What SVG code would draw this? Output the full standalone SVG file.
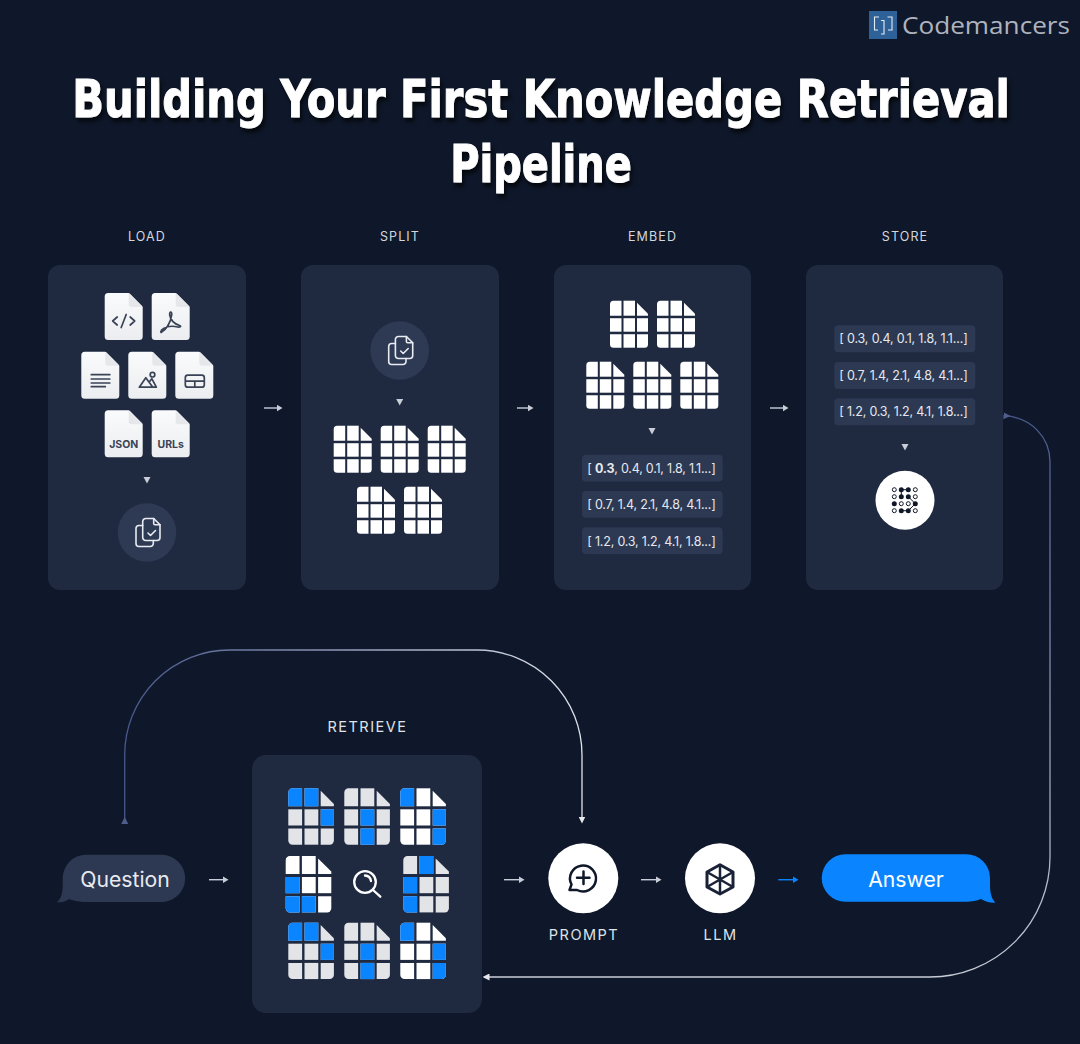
<svg xmlns="http://www.w3.org/2000/svg" width="1080" height="1044" viewBox="0 0 1080 1044">
<style>
text{font-family:"Inter","Liberation Sans",sans-serif}
.card{fill:#1f2a40}
.label{font-size:12.500px;letter-spacing:1.100px;fill:#d3d6de;text-anchor:middle}
.label2{font-size:14.500px;letter-spacing:1.500px;fill:#dfe2e8;text-anchor:middle}
.title{font-family:"DejaVu Sans","Liberation Sans",sans-serif;font-weight:700;font-size:51px;fill:#fff;stroke:#fff;stroke-width:1;text-anchor:middle}
.pill{fill:#2d3952}
.pt{font-size:12.500px;fill:#e6e8ee}
.tri{fill:#c9cdd8}
.white{fill:#fff}
.grey{fill:#e3e4e8}
.blue{fill:#0a84ff}
.doc{fill:url(#dg)}
.fold{fill:#e6e7ea}
.ic{fill:none;stroke:#3a4356;stroke-width:1.700;stroke-linecap:round;stroke-linejoin:round}
.ict{font-size:10.500px;font-weight:700;fill:#3a4356;text-anchor:middle}
.cc{fill:#2e3a54}
.ck{fill:none;stroke:#e8ebf2;stroke-width:1.600;stroke-linecap:round;stroke-linejoin:round}
.arr{fill:none;stroke:#c9cdd8;stroke-width:1.400}
.arrb{fill:none;stroke:#0a84ff;stroke-width:1.400}
.curve{fill:none;stroke-width:1.300}
.dk{fill:none;stroke:#0f1729;stroke-width:2.500;stroke-linecap:round;stroke-linejoin:round}
.dot{fill:#fff;stroke:#0f1729;stroke-width:1}
.dotf{fill:#0f1729}
</style>
<defs>
<filter id="ts" filterUnits="userSpaceOnUse" x="0" y="50" width="1080" height="170"><feDropShadow dx="2" dy="4" stdDeviation="2" flood-color="#000" flood-opacity=".7"/></filter>
<linearGradient id="dg" x1="0" y1="0" x2="0" y2="1"><stop offset="0" stop-color="#fafbfc"/><stop offset="1" stop-color="#ebedf0"/></linearGradient>
<linearGradient id="g1" gradientUnits="userSpaceOnUse" x1="125" y1="0" x2="582" y2="0"><stop offset="0" stop-color="#47578a"/><stop offset="1" stop-color="#e0e3ea"/></linearGradient>
<linearGradient id="g2" gradientUnits="userSpaceOnUse" x1="0" y1="415" x2="0" y2="977"><stop offset="0" stop-color="#47578a"/><stop offset="1" stop-color="#c8ccd6"/></linearGradient>
<marker id="mg" viewBox="0 0 6 7" refX="0.5" refY="3.5" markerWidth="6" markerHeight="7" markerUnits="userSpaceOnUse" orient="auto"><path d="M0 0L6 3.5L0 7Z" fill="#c9cdd8"/></marker>
<marker id="mb" viewBox="0 0 6 7" refX="0.5" refY="3.5" markerWidth="6" markerHeight="7" markerUnits="userSpaceOnUse" orient="auto"><path d="M0 0L6 3.5L0 7Z" fill="#0a84ff"/></marker>
<marker id="mw" viewBox="0 0 7 7" refX="0.5" refY="3.5" markerWidth="7" markerHeight="7" markerUnits="userSpaceOnUse" orient="auto"><path d="M0 0L7 3.5L0 7Z" fill="#e6e8ee"/></marker>
<marker id="ms" viewBox="0 0 7 7" refX="0" refY="3.5" markerWidth="7" markerHeight="7" markerUnits="userSpaceOnUse" orient="auto"><path d="M0 0L7 3.5L0 7Z" fill="#4e5d8c"/></marker>
<path id="c1" d="M0 3.500A3.500 3.500 0 0 1 3.500 0H11.500V15H0Z"/>
<path id="c2" d="M13.500 0H25V15H13.500Z"/>
<path id="c3" d="M27 2L38 13V15H27Z"/>
<path id="c4" d="M0 17.500H11.500V31H0Z"/>
<path id="c5" d="M13.500 17.500H25V31H13.500Z"/>
<path id="c6" d="M27 17.500H38V31H27Z"/>
<path id="c7" d="M0 33.500H11.500V47H3.500A3.500 3.500 0 0 1 0 43.500Z"/>
<path id="c8" d="M13.500 33.500H25V47H13.500Z"/>
<path id="c9" d="M27 33.500H38V43.500A3.500 3.500 0 0 1 34.500 47H27Z"/>
<g id="grid"><use href="#c1"/><use href="#c2"/><use href="#c3"/><use href="#c4"/><use href="#c5"/><use href="#c6"/><use href="#c7"/><use href="#c8"/><use href="#c9"/></g>
<g id="docb"><path class="doc" d="M3.500 0H23.500Q24.500 0 25.300 .8L37.200 12.700Q38 13.500 38 14.500V43.500A3.500 3.500 0 0 1 34.500 47H3.500A3.500 3.500 0 0 1 0 43.500V3.500A3.500 3.500 0 0 1 3.500 0Z"/><path class="fold" d="M24 .3L37.700 14H27A3 3 0 0 1 24 11Z"/></g>
<g id="copy"><circle r="29.300" class="cc"/><path class="ck" d="M-4.300-7H-8A3 3 0 0 0-11-4V11A3 3 0 0 0-8 14H3.300A3 3 0 0 0 6.300 11V8"/><path class="ck" d="M-1.300-14H6.700L13-7.700V5A3 3 0 0 1 10 8H-1.300A3 3 0 0 1-4.300 5V-11A3 3 0 0 1-1.300-14Z"/><path class="ck" d="M6.700-14V-9A1.300 1.300 0 0 0 8-7.700H13"/><path class="ck" d="M1 .5L3.500 3L8.500-2"/></g>
<path id="tridown" class="tri" d="M-3.500-3H3.500L0 3.500Z"/>
</defs>
<rect width="1080" height="1044" fill="#0f182a"/>

<g id="logo">
<rect x="869" y="11" width="28" height="28" fill="#2f6199"/>
<path d="M879 17H874.500V30H878M887.500 17H892V30H888M881 20.500H884V34H881" fill="none" stroke="#e6ebf2" stroke-width="1.100"/>
<text x="902" y="34" font-size="23" fill="#aeb3bf" textLength="168" lengthAdjust="spacingAndGlyphs" style="font-family:'Open Sans','Liberation Sans',sans-serif">Codemancers</text>
</g>
<g id="title" filter="url(#ts)">
<text class="title" transform="translate(541 117) scale(.8 1)" textLength="1172" lengthAdjust="spacingAndGlyphs">Building Your First Knowledge Retrieval</text>
<text class="title" transform="translate(541 182) scale(.8 1)" textLength="227" lengthAdjust="spacingAndGlyphs">Pipeline</text>
</g>

<g id="load">
<text class="label" x="147" y="241">LOAD</text>
<rect class="card" x="48" y="265" width="198" height="325" rx="12"/>
<g transform="translate(104.700 293)"><use href="#docb"/><path class="ic" d="M12.500 24L8 28L12.500 32M25.500 24L30 28L25.500 32M21.500 21.500L16.500 34.500"/></g>
<g transform="translate(151.700 293)"><use href="#docb"/><path class="ic" d="M10 39C14 37 19 30 20 22C20.500 18 17.500 18 18 22C19 28 23 31 28 32.500C30 33 28.500 34.500 26 34C22 33 16 33 12 35.500C8 38 9 40.500 10 39Z"/></g>
<g transform="translate(81.300 351.700)"><use href="#docb"/><path class="ic" d="M10 23H28.500M10 27.300H28.500M10 31.300H28.500M10 35H24"/></g>
<g transform="translate(128.300 351.700)"><use href="#docb"/><path class="ic" d="M11 35.500L17.500 26L24.500 35.500ZM21.500 29.500L23.500 27L28 35.500H24.500"/><circle class="ic" cx="24.200" cy="23" r="2.300"/></g>
<g transform="translate(175.300 351.700)"><use href="#docb"/><path class="ic" d="M12.500 23.500H26.500A2.500 2.500 0 0 1 29 26V33A2.500 2.500 0 0 1 26.500 35.500H12.500A2.500 2.500 0 0 1 10 33V26A2.500 2.500 0 0 1 12.500 23.500ZM10 29.500H29M19.500 29.500V35.500"/></g>
<g transform="translate(104.700 410.300)"><use href="#docb"/><text class="ict" x="19" y="38">JSON</text></g>
<g transform="translate(151.700 410.300)"><use href="#docb"/><text class="ict" x="19" y="38">URLs</text></g>
<use href="#tridown" x="147" y="480"/>
<use href="#copy" x="147" y="532.500"/>
</g>

<g id="split">
<text class="label" x="400" y="241">SPLIT</text>
<rect class="card" x="301" y="265" width="198" height="325" rx="12"/>
<use href="#copy" x="399.700" y="350.500"/>
<use href="#tridown" x="399.700" y="402"/>
<use href="#grid" class="white" x="333.700" y="425.700"/>
<use href="#grid" class="white" x="380.700" y="425.700"/>
<use href="#grid" class="white" x="427.700" y="425.700"/>
<use href="#grid" class="white" x="357" y="486.700"/>
<use href="#grid" class="white" x="404" y="486.700"/>
</g>

<g id="embed">
<text class="label" x="652.500" y="241">EMBED</text>
<rect class="card" x="554" y="265" width="197" height="325" rx="12"/>
<use href="#grid" class="white" x="610" y="300.700"/>
<use href="#grid" class="white" x="657" y="300.700"/>
<use href="#grid" class="white" x="586.300" y="361.700"/>
<use href="#grid" class="white" x="633.300" y="361.700"/>
<use href="#grid" class="white" x="680.300" y="361.700"/>
<use href="#tridown" x="652" y="431"/>
<rect class="pill" x="582" y="454.700" width="140.700" height="26.700" rx="4"/>
<rect class="pill" x="582" y="491" width="140.700" height="26.700" rx="4"/>
<rect class="pill" x="582" y="527.300" width="140.700" height="26.700" rx="4"/>
<text class="pt" x="587.300" y="472.700" textLength="128.400">[ <tspan font-weight="700">0.3</tspan>, 0.4, 0.1, 1.8, 1.1...]</text>
<text class="pt" x="587.300" y="509" textLength="128.400">[ 0.7, 1.4, 2.1, 4.8, 4.1...]</text>
<text class="pt" x="587.300" y="545.500" textLength="128.400">[ 1.2, 0.3, 1.2, 4.1, 1.8...]</text>
</g>

<g id="store">
<text class="label" x="905" y="241">STORE</text>
<rect class="card" x="806" y="265" width="197" height="325" rx="12"/>
<rect class="pill" x="834.300" y="325.300" width="141" height="27" rx="4"/>
<rect class="pill" x="834.300" y="362" width="141" height="27" rx="4"/>
<rect class="pill" x="834.300" y="398.300" width="141" height="27" rx="4"/>
<text class="pt" x="839.300" y="343.300" textLength="128.400">[ 0.3, 0.4, 0.1, 1.8, 1.1...]</text>
<text class="pt" x="839.300" y="380" textLength="128.400">[ 0.7, 1.4, 2.1, 4.8, 4.1...]</text>
<text class="pt" x="839.300" y="416.300" textLength="128.400">[ 1.2, 0.3, 1.2, 4.1, 1.8...]</text>
<use href="#tridown" x="905" y="447"/>
<circle cx="905" cy="500.200" r="29.500" fill="#fff"/>
<path d="M901.300 489.700H908.300M901.300 489.700V496.700M908.300 496.700L915.300 503.700L908.300 510.700H901.300" fill="none" stroke="#0f1729" stroke-width="1"/>
<g class="dot"><circle cx="894.300" cy="489.700" r="2"/><circle cx="915.300" cy="489.700" r="2"/><circle cx="894.300" cy="496.700" r="2"/><circle cx="915.300" cy="496.700" r="2"/><circle cx="901.300" cy="503.700" r="2"/><circle cx="908.300" cy="503.700" r="2"/><circle cx="894.300" cy="510.700" r="2"/><circle cx="915.300" cy="510.700" r="2"/></g>
<g class="dotf"><circle cx="901.300" cy="489.700" r="2.500"/><circle cx="908.300" cy="489.700" r="2.500"/><circle cx="901.300" cy="496.700" r="2.500"/><circle cx="908.300" cy="496.700" r="2.500"/><circle cx="894.300" cy="503.700" r="2.500"/><circle cx="915.300" cy="503.700" r="2.500"/><circle cx="901.300" cy="510.700" r="2.500"/><circle cx="908.300" cy="510.700" r="2.500"/></g>
</g>

<g id="retrieve">
<text class="label2" x="367.500" y="732">RETRIEVE</text>
<rect class="card" x="252" y="755" width="230" height="258" rx="14"/>
<g transform="translate(288.300 788.300) scale(1.200)"><use href="#grid" class="grey"/><g class="blue"><use href="#c1"/><use href="#c2"/><use href="#c6"/></g></g>
<g transform="translate(344.300 788.300) scale(1.200)"><use href="#grid" class="grey"/><g class="blue"><use href="#c5"/><use href="#c8"/></g></g>
<g transform="translate(400.300 788.300) scale(1.200)"><use href="#grid" class="white"/><g class="blue"><use href="#c1"/><use href="#c6"/><use href="#c9"/></g></g>
<g transform="translate(285.700 856) scale(1.200)"><use href="#grid" class="white"/><g class="blue"><use href="#c4"/><use href="#c7"/><use href="#c8"/></g></g>
<g transform="translate(403.300 856) scale(1.200)"><use href="#grid" class="grey"/><g class="blue"><use href="#c2"/><use href="#c4"/><use href="#c7"/></g></g>
<g transform="translate(288.300 922.700) scale(1.200)"><use href="#grid" class="grey"/><g class="blue"><use href="#c1"/><use href="#c2"/><use href="#c6"/></g></g>
<g transform="translate(344.300 922.700) scale(1.200)"><use href="#grid" class="grey"/><g class="blue"><use href="#c5"/><use href="#c8"/></g></g>
<g transform="translate(400.300 922.700) scale(1.200)"><use href="#grid" class="white"/><g class="blue"><use href="#c1"/><use href="#c6"/><use href="#c9"/></g></g>
<circle cx="365" cy="882" r="10.800" fill="none" stroke="#fff" stroke-width="2.300"/>
<path d="M373 890L380.300 896.700M365 875.500A6.500 6.500 0 0 1 371 881" fill="none" stroke="#fff" stroke-width="2.300" stroke-linecap="round"/>
</g>

<g id="question">
<path d="M86 854.700H163A23.700 23.700 0 0 1 163 902H86C79 902 72 900 69 899C65 902 60 902.500 56.700 902.300C61 899 62.700 894 62.700 885V878.400A23.700 23.700 0 0 1 86 854.700Z" fill="#2d3852"/>
<text x="125" y="887" font-size="21.200" fill="#e8eaf0" text-anchor="middle">Question</text>
</g>
<g id="prompt">
<circle cx="583.300" cy="878.300" r="35" fill="#fff"/>
<path class="dk" d="M577 890H569.500L571.500 884.500A13 13 0 1 1 577 890ZM583.500 871.500V884M577 877.800H589.500"/>
<text class="label2" x="584" y="940">PROMPT</text>
</g>
<g id="llm">
<circle cx="720" cy="878.300" r="35" fill="#fff"/>
<path d="M720 864.800L733 872V887L720 894L707 887V872Z" fill="none" stroke="#1a2238" stroke-width="3" stroke-linejoin="round"/>
<path d="M720 864.800V894M707 872L733 887M733 872L707 887" fill="none" stroke="#1a2238" stroke-width="2.500"/>
<text class="label2" x="720.500" y="940">LLM</text>
</g>
<g id="answer">
<path d="M845.400 854.300H966.300A23.700 23.700 0 0 1 990 878V884C990 892 991 898 995.300 902.700C990 903 985 901.500 981 899C976 901 972 901.700 966.300 901.700H845.400A23.700 23.700 0 0 1 845.400 854.300Z" fill="#0a84ff"/>
<text x="906" y="886.700" font-size="21.200" fill="#fff" text-anchor="middle">Answer</text>
</g>

<g id="connectors">
<path class="arr" marker-end="url(#mg)" d="M264 408H277"/>
<path class="arr" marker-end="url(#mg)" d="M517 408H528"/>
<path class="arr" marker-end="url(#mg)" d="M770 408H783"/>
<path class="arr" marker-end="url(#mg)" d="M209 879.700H223"/>
<path class="arr" marker-end="url(#mg)" d="M504 879.700H519"/>
<path class="arr" marker-end="url(#mg)" d="M641 879.700H656"/>
<path class="arrb" marker-end="url(#mb)" d="M778.300 879.700H793"/>
<path class="curve" stroke="url(#g1)" marker-start="url(#ms)" marker-end="url(#mw)" d="M124.700 824V755A105 105 0 0 1 229.700 650H477A105 105 0 0 1 582 755V817"/>
<path class="curve" stroke="url(#g2)" marker-start="url(#ms)" marker-end="url(#mw)" d="M1003.500 415.700C1032 417 1050 438 1050 462V857A120 120 0 0 1 930 977H489"/>
</g>
</svg>
